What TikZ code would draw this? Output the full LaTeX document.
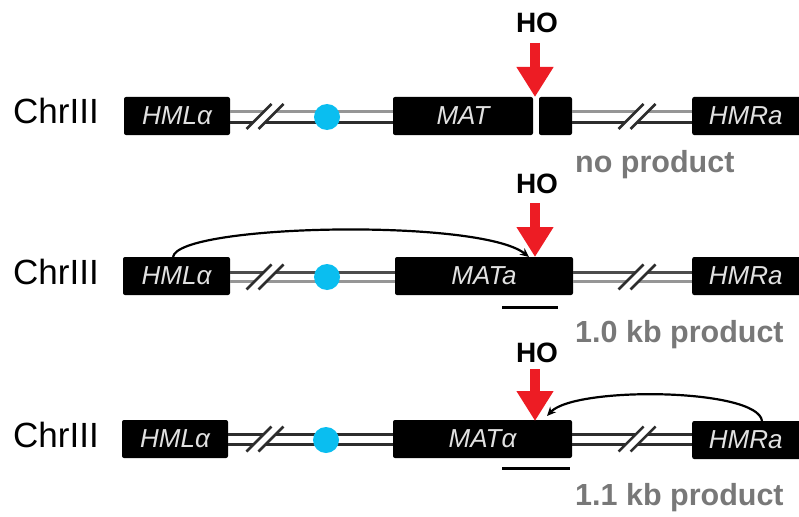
\documentclass[tikz,border=0pt]{standalone}
\usepackage{fontspec}
\setmainfont{Liberation Sans}
\usetikzlibrary{arrows.meta,calc}
\definecolor{hored}{RGB}{237,28,36}
\definecolor{cen}{RGB}{10,190,240}
\definecolor{prodgrey}{RGB}{120,120,120}
\definecolor{lgrey}{RGB}{150,150,150}
\definecolor{dgrey}{RGB}{45,45,45}
\definecolor{boxtext}{RGB}{225,225,225}
\tikzset{
  gene/.style={fill=black, rounded corners=2pt, inner sep=0pt, minimum height=38pt,
    text=boxtext, font=\fontsize{26}{28}\selectfont\itshape},
  chrlabel/.style={anchor=base west, inner sep=0pt, font=\fontsize{35}{38}\selectfont},
  holabel/.style={inner sep=0pt, font=\fontsize{28}{30}\selectfont\bfseries},
  prodlabel/.style={anchor=base west, inner sep=0pt, text=prodgrey, font=\fontsize{30.5}{32}\selectfont\bfseries},
  hoarrow/.style={draw=hored, line width=10pt, -{Triangle[width=35pt,length=30pt]}},
  dnaline/.style={line width=3pt},
  centro/.style={circle, fill=cen, minimum size=26pt, inner sep=0pt},
  arc/.style={draw=black, line width=2.2pt, -{Stealth[length=9pt,width=8pt]}},
  slashw/.style={draw=white, line width=9pt},
  slashb/.style={draw=dgrey, line width=2.5pt},
  prodbar/.style={draw=black, line width=3pt}
}
\newcommand{\breakmark}[2]{%
  \draw[slashw] (#1-12.5,#2+12.5) -- (#1+12.5,#2-12.5);
  \draw[slashb] (#1-18.5,#2+12.5) -- (#1+6.5,#2-12.5);
  \draw[slashb] (#1-6.5,#2+12.5) -- (#1+18.5,#2-12.5);}
\begin{document}
\begin{tikzpicture}[x=1pt,y=-1pt]
\useasboundingbox[fill=white] (0,0) rectangle (799,516);

% ---------------- Row 1 ----------------
\node[chrlabel] (chr1) at (13,123) {ChrIII};
\node[gene, minimum width=106pt] (hml1) at (177,116) {HMLα};
\node[gene, minimum width=140pt] (mat1) at (463,116) {MAT};
\node[gene, minimum width=33pt] (stub1) at (555.5,116) {};
\node[gene, minimum width=110pt, anchor=west] (hmr1) at (692,116) {\hspace*{-3pt}HMRa};
\draw[dnaline, lgrey] ([yshift=5pt]hml1.east) -- ([yshift=5pt]mat1.west);
\draw[dnaline, dgrey] ([yshift=-6pt]hml1.east) -- ([yshift=-6pt]mat1.west);
\draw[dnaline, lgrey] ([yshift=5pt]stub1.east) -- ([yshift=5pt]hmr1.west);
\draw[dnaline, dgrey] ([yshift=-6pt]stub1.east) -- ([yshift=-6pt]hmr1.west);
\breakmark{265}{116.5}
\breakmark{637}{116.5}
\node[centro] (cen1) at (327,117) {};
\node[holabel] (ho1) at (537,23) {HO};
\coordinate (tip1) at (535,97);
\draw[hoarrow] (535,43) -- (tip1);
\node[prodlabel] (p1) at (575,172) {no product};

% ---------------- Row 2 ----------------
\node[chrlabel] (chr2) at (13,284) {ChrIII};
\node[gene, minimum width=107pt] (hml2) at (176.5,276) {HMLα};
\node[gene, minimum width=178pt] (mat2) at (484,276) {MATa};
\node[gene, minimum width=110pt, anchor=west] (hmr2) at (692,276) {\hspace*{-3pt}HMRa};
\draw[dnaline, dgrey!85] ([yshift=4pt]hml2.east) -- ([yshift=4pt]mat2.west);
\draw[dnaline, lgrey] ([yshift=-5pt]hml2.east) -- ([yshift=-5pt]mat2.west);
\draw[dnaline, dgrey!85] ([yshift=4pt]mat2.east) -- ([yshift=4pt]hmr2.west);
\draw[dnaline, lgrey] ([yshift=-5pt]mat2.east) -- ([yshift=-5pt]hmr2.west);
\breakmark{265}{277}
\breakmark{637}{277}
\node[centro] (cen2) at (327,277) {};
\coordinate (a2s) at (173,257);
\coordinate (a2e) at (529,257);
\draw[arc] (a2s) .. controls (178,224) and (480,218) .. (a2e);
\node[holabel] (ho2) at (537,184) {HO};
\coordinate (tip2) at (535,257);
\draw[hoarrow] (535,203) -- (tip2);
\draw[prodbar] (502,307) -- (558,307);
\node[prodlabel] (p2) at (575,342) {1.0 kb product};

% ---------------- Row 3 ----------------
\node[chrlabel] (chr3) at (13,447) {ChrIII};
\node[gene, minimum width=106pt] (hml3) at (175,439) {HMLα};
\node[gene, minimum width=179pt] (mat3) at (482.5,439) {MATα};
\node[gene, minimum width=110pt, anchor=west] (hmr3) at (692,440) {\hspace*{-3pt}HMRa};
\draw[dnaline, dgrey] ([yshift=5pt]hml3.east) -- ([yshift=5pt]mat3.west);
\draw[dnaline, dgrey] ([yshift=-5pt]hml3.east) -- ([yshift=-5pt]mat3.west);
\draw[dnaline, dgrey] ([yshift=5pt]mat3.east) -- ([yshift=5pt]mat3.east -| hmr3.west);
\draw[dnaline, dgrey] ([yshift=-5pt]mat3.east) -- ([yshift=-5pt]mat3.east -| hmr3.west);
\breakmark{265}{439}
\breakmark{637}{439}
\node[centro] (cen3) at (326,440) {};
\coordinate (a3s) at (762,421);
\coordinate (a3e) at (547,416);
\draw[arc] (a3s) .. controls (758,388) and (575,386) .. (a3e);
\node[holabel] (ho3) at (537,353) {HO};
\coordinate (tip3) at (535,421);
\draw[hoarrow] (535,369) -- (tip3);
\draw[prodbar] (502,468) -- (570,468);
\node[prodlabel] (p3) at (575,505) {1.1 kb product};
\end{tikzpicture}
\end{document}
